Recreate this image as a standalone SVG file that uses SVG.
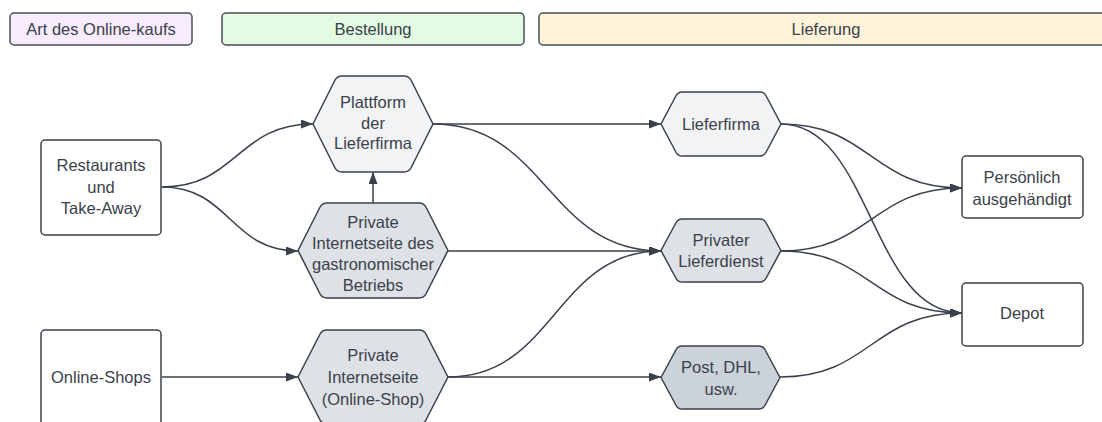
<svg xmlns="http://www.w3.org/2000/svg" width="1102" height="422" viewBox="0 0 1102 422">
<style>
text{font-family:"Liberation Sans",Arial,sans-serif;font-size:16.5px;fill:#3a414a;text-anchor:middle}
.hdr{stroke:#474e57;stroke-width:1.5}
.box{fill:#ffffff;stroke:#3a414a;stroke-width:1.5}
.hex{stroke:#3a414a;stroke-width:1.5;stroke-linejoin:round}
.l1{fill:#f2f3f5}.l2{fill:#dee2e7}.l3{fill:#ccd2da}
.c{fill:none;stroke:#3a414a;stroke-width:1.5;marker-end:url(#ah)}
</style>
<defs>
<marker id="ah" markerUnits="userSpaceOnUse" markerWidth="14" markerHeight="12" refX="12" refY="4.5" orient="auto">
<path d="M0,0 L12,4.5 L0,9 z" fill="#3a414a"/>
</marker>
</defs>
<rect width="1102" height="422" fill="#ffffff"/>
<g id="header-art">
<rect class="hdr" x="10" y="13" width="182" height="32" rx="4" fill="#f8ecff"/>
<text x="101" y="35">Art des Online-kaufs</text>
</g>
<g id="header-bestellung">
<rect class="hdr" x="222" y="13" width="302" height="32" rx="4" fill="#e3fae3"/>
<text x="373" y="35">Bestellung</text>
</g>
<g id="header-lieferung">
<rect class="hdr" x="539" y="13" width="574" height="32" rx="4" fill="#fff3d9"/>
<text x="826" y="35">Lieferung</text>
</g>
<g id="connectors">
<path class="c" d="M162,187 C237,187 237,124 313,124"/>
<path class="c" d="M162,187 C230,187 230,251 298,251"/>
<path class="c" d="M373,203 L373,172"/>
<path class="c" d="M162,377 L298,377"/>
<path class="c" d="M433,124 L661,124"/>
<path class="c" d="M433,124 C547,124 547,251 661,251"/>
<path class="c" d="M448,251 L661,251"/>
<path class="c" d="M448,377 C555,377 555,251 661,251"/>
<path class="c" d="M448,377 L661,377"/>
<path class="c" d="M781,124 C871,124 871,188 962,188"/>
<path class="c" d="M781,124 C871,124 871,313 962,313"/>
<path class="c" d="M781,251 C871,251 871,188 962,188"/>
<path class="c" d="M781,251 C871,251 871,313 962,313"/>
<path class="c" d="M780,377 C871,377 871,313 962,313"/>
</g>
<g id="restaurants">
<rect class="box" x="41" y="140" width="120" height="95" rx="4"/>
<text x="101" y="171">Restaurants</text>
<text x="101" y="193">und</text>
<text x="101" y="214">Take-Away</text>
</g>
<g id="online-shops">
<rect class="box" x="41" y="330" width="120" height="100" rx="4"/>
<text x="101" y="383">Online-Shops</text>
</g>
<g id="plattform">
<path class="hex l1" d="M313,124 L334.8,80.5 Q337,76 342,76 L404,76 Q409,76 411.2,80.5 L433,124 L411.2,167.5 Q409,172 404,172 L342,172 Q337,172 334.8,167.5 Z"/>
<text x="373" y="108">Plattform</text>
<text x="373" y="129">der</text>
<text x="373" y="149">Lieferfirma</text>
</g>
<g id="gastro">
<path class="hex l2" d="M298,250.5 L319.8,207.5 Q322,203 327,203 L419,203 Q424,203 426.2,207.5 L448,250.5 L426.2,293.5 Q424,298 419,298 L327,298 Q322,298 319.8,293.5 Z"/>
<text x="373" y="228">Private</text>
<text x="373" y="249">Internetseite des</text>
<text x="373" y="270">gastronomischer</text>
<text x="373" y="291">Betriebs</text>
</g>
<g id="online-shop-site">
<path class="hex l2" d="M298,377 L319.8,334.5 Q322,330 327,330 L419,330 Q424,330 426.2,334.5 L448,377 L426.2,419.5 Q424,424 419,424 L327,424 Q322,424 319.8,419.5 Z"/>
<text x="373" y="361">Private</text>
<text x="373" y="383">Internetseite</text>
<text x="373" y="405">(Online-Shop)</text>
</g>
<g id="lieferfirma">
<path class="hex l1" d="M661,124 L676.1,95.5 Q678,92 682,92 L760,92 Q764,92 765.9,95.5 L781,124 L765.9,152.5 Q764,156 760,156 L682,156 Q678,156 676.1,152.5 Z"/>
<text x="721" y="130">Lieferfirma</text>
</g>
<g id="privater-lieferdienst">
<path class="hex l2" d="M661,250.5 L676.1,222.5 Q678,219 682,219 L760,219 Q764,219 765.9,222.5 L781,250.5 L765.9,278.5 Q764,282 760,282 L682,282 Q678,282 676.1,278.5 Z"/>
<text x="721" y="246">Privater</text>
<text x="721" y="267">Lieferdienst</text>
</g>
<g id="post">
<path class="hex l3" d="M661,377.5 L676.1,349.5 Q678,346 682,346 L759,346 Q763,346 764.9,349.5 L780,377.5 L764.9,405.5 Q763,409 759,409 L682,409 Q678,409 676.1,405.5 Z"/>
<text x="721" y="373">Post, DHL,</text>
<text x="721" y="395">usw.</text>
</g>
<g id="persoenlich">
<rect class="box" x="962" y="156" width="121" height="62" rx="4"/>
<text x="1022" y="183">Persönlich</text>
<text x="1022" y="205">ausgehändigt</text>
</g>
<g id="depot">
<rect class="box" x="962" y="283" width="121" height="63" rx="4"/>
<text x="1022" y="319">Depot</text>
</g>
</svg>
